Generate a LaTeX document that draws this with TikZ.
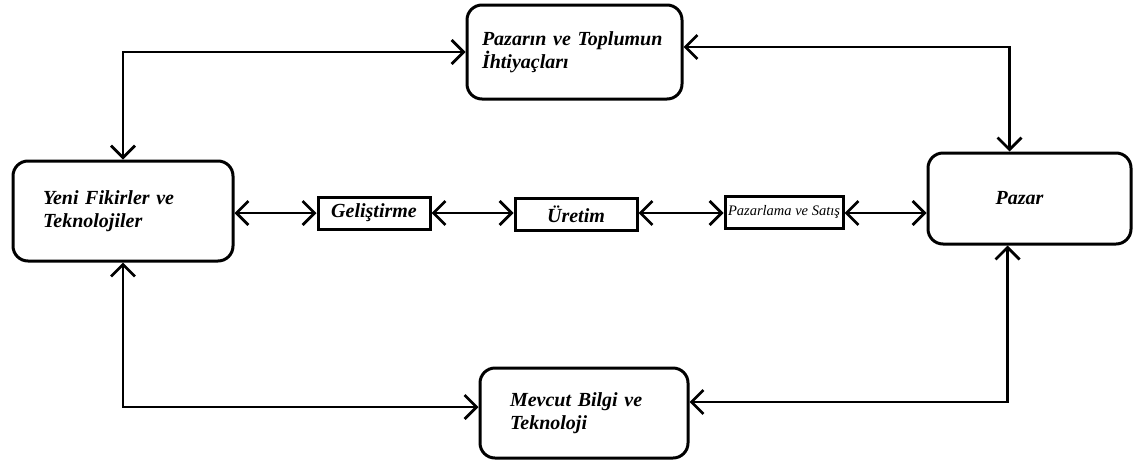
\documentclass[tikz,border=0pt]{standalone}
\usepackage{fontspec}
\setmainfont{Liberation Serif}
\usetikzlibrary{arrows.meta}
\begin{document}
\begin{tikzpicture}[x=1pt,y=-1pt,
  bigbox/.style={draw,line width=3pt,rounded corners=15pt,inner sep=0pt,
    font=\fontsize{20}{23}\selectfont\bfseries\itshape},
  smallbox/.style={draw,line width=3pt,inner sep=0pt,minimum height=32pt,
    font=\fontsize{20}{23}\selectfont\bfseries\itshape},
  conn/.style={line width=2.8pt,{Straight Barb[length=12pt,width=24pt]}-{Straight Barb[length=12pt,width=24pt]}}
]
\useasboundingbox (0,0) rectangle (1134,461);
\node[bigbox,minimum width=215pt,minimum height=94pt,text width=185pt,align=left] (top) at (574.5,52) {Pazarın ve Toplumun\\İhtiyaçları};
\node[bigbox,minimum width=220pt,minimum height=100pt,text width=160pt,align=left] (left) at (123,211) {Yeni Fikirler ve\\Teknolojiler};
\node[bigbox,minimum width=208pt,minimum height=90pt,text width=148pt,align=left] (bottom) at (584,413) {Mevcut Bilgi ve\\Teknoloji};
\node[bigbox,minimum width=203pt,minimum height=91pt] (pazar) at (1029.5,198.5) {\hspace*{-20pt}Pazar};
\node[smallbox,minimum width=112pt] (gel) at (374,213) {Geliştirme};
\node[smallbox,minimum width=122pt] (ure) at (576,214) {Üretim};
\node[smallbox,minimum width=118pt,font=\fontsize{14.5}{17}\selectfont\itshape] (paz) at (784,212) {Pazarlama ve Satış};

\draw[conn] (left.north) |- (top.west);
\draw[conn] ([yshift=5pt]top.east) -| ([xshift=-20pt]pazar.north);
\draw[conn] (left.south) |- ([yshift=6pt]bottom.west);
\draw[conn] ([yshift=11pt]bottom.east) -| ([xshift=-22pt]pazar.south);
\draw[conn] (gel.west -| left.east) -- (gel.west);
\draw[conn] (gel.east) -- (gel.east -| ure.west);
\draw[conn] (gel.east -| ure.east) -- (gel.east -| paz.west);
\draw[conn] (gel.east -| paz.east) -- (gel.east -| pazar.west);
\end{tikzpicture}
\end{document}
